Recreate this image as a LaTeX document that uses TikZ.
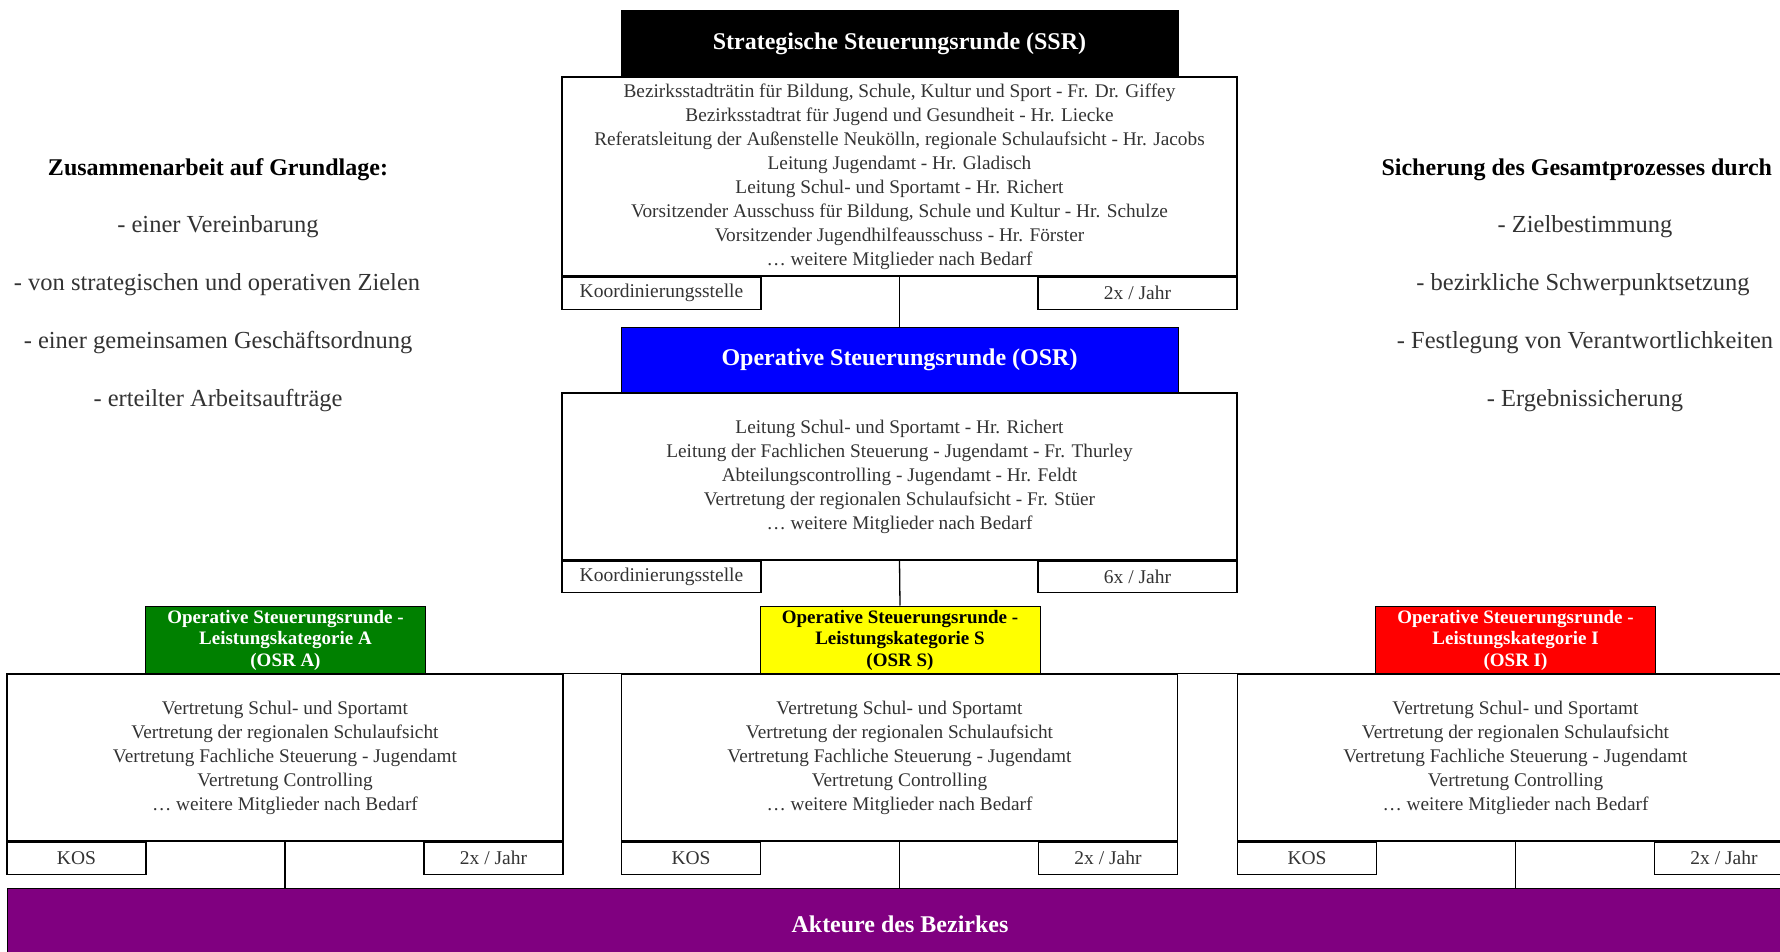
\documentclass[tikz,border=0pt]{standalone}
\usepackage{fontspec}
\setmainfont{Liberation Serif}
\usepackage{tikz}
\usepackage{xcolor}
\definecolor{ssrblack}{RGB}{0,0,0}
\definecolor{osrblue}{RGB}{0,0,255}
\definecolor{osrgreen}{RGB}{0,128,0}
\definecolor{osryellow}{RGB}{255,255,0}
\definecolor{osrred}{RGB}{255,0,0}
\definecolor{bezpurple}{RGB}{128,0,128}

\begin{document}
\begin{tikzpicture}[x=1pt,y=-1pt]
\tikzset{
    head/.style={%
        draw=black, line width=1pt,
        rectangle,
        inner sep=0pt,
        minimum height=66pt,
        minimum width=557pt,
        text=white,
        font=\fontsize{24}{28}\selectfont\bfseries
        },
    subhead/.style={%
        draw=black, line width=1pt,
        rectangle,
        inner sep=0pt,
        align=center,
        minimum height=68pt,
        minimum width=280pt,
        font=\fontsize{19}{21.5}\selectfont\bfseries
        },
    body/.style={%
        draw=black, line width=1.3pt,
        rectangle,
        inner sep=0pt,
        align=center,
        text=black!80,
        font=\fontsize{19.3}{24}\selectfont
        },
    cell/.style={%
        draw=black, line width=1.3pt,
        rectangle,
        inner sep=0pt,
        minimum height=32pt,
        text=black!80,
        font=\fontsize{19.5}{24}\selectfont
        },
    side/.style={%
        align=center,
        text=black!80,
        font=\fontsize{24.5}{28}\selectfont
        },
    sidehead/.style={%
        text=black,
        font=\fontsize{24}{28}\selectfont\bfseries
        },
}
\useasboundingbox (0,0) rectangle (1780,952);
%%%STRATEGISCHE STEUERUNGSRUNDE
\node[head, fill=ssrblack] (ssr) at (899.5,44) {Strategische Steuerungsrunde (SSR)};
\node[body, minimum width=675pt, minimum height=199pt] (ssrbody) at (899.5,176.5)
  {Bezirksstadträtin für Bildung, Schule, Kultur und Sport - Fr. Dr. Giffey\\
   Bezirksstadtrat für Jugend und Gesundheit - Hr. Liecke\\
   Referatsleitung der Außenstelle Neukölln, regionale Schulaufsicht - Hr. Jacobs\\
   Leitung Jugendamt - Hr. Gladisch\\
   Leitung Schul- und Sportamt - Hr. Richert\\
   Vorsitzender Ausschuss für Bildung, Schule und Kultur - Hr. Schulze\\
   Vorsitzender Jugendhilfeausschuss - Hr. Förster\\
   \dots\ weitere Mitglieder nach Bedarf};
\node[cell, minimum width=199pt, anchor=north west] (ssrkoo) at (ssrbody.south west) {Koordinierungsstelle};
\node[cell, minimum width=199pt, anchor=north east] (ssrfreq) at (ssrbody.south east) {2x / Jahr};
%%%OPERATIVE STEUERUNGSRUNDE
\node[head, fill=osrblue] (osr) at (899.5,360) {Operative Steuerungsrunde (OSR)};
\node[body, minimum width=675pt, minimum height=167pt] (osrbody) at (899.5,476.5)
  {Leitung Schul- und Sportamt - Hr. Richert\\
   Leitung der Fachlichen Steuerung - Jugendamt - Fr. Thurley\\
   Abteilungscontrolling - Jugendamt - Hr. Feldt\\
   Vertretung der regionalen Schulaufsicht - Fr. Stüer\\
   \dots\ weitere Mitglieder nach Bedarf};
\node[cell, minimum width=199pt, minimum height=31pt, anchor=north west] (osrkoo) at (osrbody.south west) {Koordinierungsstelle};
\node[cell, minimum width=199pt, minimum height=31pt, anchor=north east] (osrfreq) at (osrbody.south east) {6x / Jahr};
%%%LEISTUNGSKATEGORIEN
\node[subhead, fill=osrgreen, text=white] (osra) at (285.5,640) {Operative Steuerungsrunde -\\Leistungskategorie A\\(OSR A)};
\node[subhead, fill=osryellow, text=black] (osrs) at (900,640) {Operative Steuerungsrunde -\\Leistungskategorie S\\(OSR S)};
\node[subhead, fill=osrred, text=white] (osri) at (1515.5,640) {Operative Steuerungsrunde -\\Leistungskategorie I\\(OSR I)};
\foreach \k/\cx in {a/285, s/899.5, i/1515.5} {
  \node[body, minimum width=556pt, minimum height=167pt] (\k body) at (\cx,757.5)
    {Vertretung Schul- und Sportamt\\
     Vertretung der regionalen Schulaufsicht\\
     Vertretung Fachliche Steuerung - Jugendamt\\
     Vertretung Controlling\\
     \dots\ weitere Mitglieder nach Bedarf};
  \node[cell, minimum width=139pt, anchor=north west] (\k kos) at (\k body.south west) {KOS};
  \node[cell, minimum width=139pt, anchor=north east] (\k freq) at (\k body.south east) {2x / Jahr};
}
%%%AKTEURE
\node[draw=black, line width=1pt, fill=bezpurple, minimum width=1786pt, minimum height=72pt,
  text=white, font=\fontsize{24}{28}\selectfont\bfseries] (akteure) at (900,924) {Akteure des Bezirkes};
%%%VERBINDUNGEN
\draw[line width=1.3pt] (ssrbody.south) -- (osr.north);
\draw[line width=1.3pt] (osrbody.south) -- (osrs.north);
\draw[line width=1.3pt] (abody.north west) -- (ibody.north east);
\foreach \k in {a,s,i}
  \draw[line width=1.3pt] (\k body.south) -- (\k body.south |- akteure.north);
%%%SEITENTEXTE
\node[side, sidehead] (links) at (218,170) {Zusammenarbeit auf Grundlage:};
\node[side] (links1) at (218,227) {- einer Vereinbarung};
\node[side] (links2) at (217,285) {- von strategischen und operativen Zielen};
\node[side] (links3) at (218,343) {- einer gemeinsamen Geschäftsordnung};
\node[side] (links4) at (218,401) {- erteilter Arbeitsaufträge};
\node[side, sidehead, anchor=west] (rechts) at (1378,170) {Sicherung des Gesamtprozesses durch};
\node[side] (rechts1) at (1585,227) {- Zielbestimmung};
\node[side] (rechts2) at (1583,285) {- bezirkliche Schwerpunktsetzung};
\node[side] (rechts3) at (1585,343) {- Festlegung von Verantwortlichkeiten};
\node[side] (rechts4) at (1585,401) {- Ergebnissicherung};
\end{tikzpicture}
\end{document}
